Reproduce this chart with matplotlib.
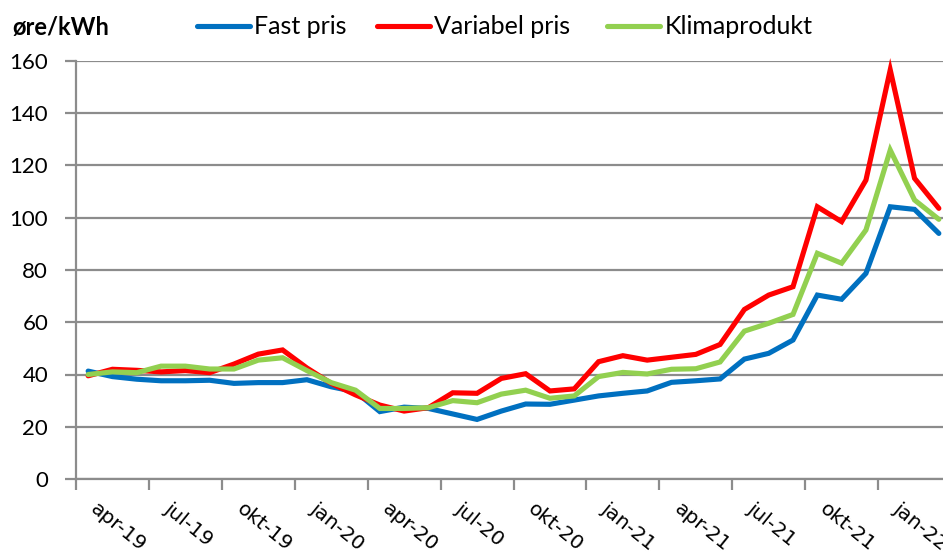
import matplotlib
matplotlib.use("Agg")
import matplotlib.pyplot as plt
import matplotlib.transforms as mtransforms
from matplotlib.ticker import FixedLocator

months = ["apr-19", "mai-19", "jun-19", "jul-19", "aug-19", "sep-19", "okt-19", "nov-19", "des-19",
          "jan-20", "feb-20", "mar-20", "apr-20", "mai-20", "jun-20", "jul-20", "aug-20", "sep-20",
          "okt-20", "nov-20", "des-20", "jan-21", "feb-21", "mar-21", "apr-21", "mai-21", "jun-21",
          "jul-21", "aug-21", "sep-21", "okt-21", "nov-21", "des-21", "jan-22", "feb-22", "mar-22"]

fast_pris = [41.3, 39.2, 38.2, 37.6, 37.6, 37.8, 36.6, 36.9, 36.9,
             38.0, 35.3, 33.4, 25.8, 27.5, 27.0, 24.9, 22.8, 26.0,
             28.7, 28.6, 30.2, 31.8, 32.8, 33.7, 37.0, 37.6, 38.3,
             45.9, 48.1, 53.2, 70.4, 68.8, 78.7, 104.2, 103.2, 94.0]

variabel_pris = [39.5, 42.0, 41.6, 41.0, 41.5, 40.7, 44.0, 47.8, 49.4,
                 42.5, 36.6, 32.2, 28.3, 26.0, 27.3, 33.0, 32.8, 38.5,
                 40.3, 33.7, 34.5, 44.9, 47.2, 45.5, 46.6, 47.7, 51.5,
                 64.9, 70.4, 73.6, 104.2, 98.5, 114.4, 156.6, 115.1, 103.6]

klimaprodukt = [40.0, 41.0, 40.7, 43.2, 43.2, 42.1, 42.1, 45.5, 46.4,
                41.5, 36.9, 34.0, 27.0, 27.0, 27.3, 30.0, 29.2, 32.5,
                34.0, 30.9, 31.8, 39.2, 40.8, 40.2, 42.0, 42.2, 44.8,
                56.6, 59.6, 63.0, 86.4, 82.6, 95.3, 125.9, 106.8, 99.4]

series = [("Fast pris", fast_pris, "#0070C0"),
          ("Variabel pris", variabel_pris, "#FF0000"),
          ("Klimaprodukt", klimaprodukt, "#92D050")]

W, H = 943, 559
fig = plt.figure(figsize=(W / 100, H / 100), dpi=100)
left, right_px = 76, 951
top, bottom = 61, 479
ax = fig.add_axes([left / W, 1 - bottom / H, (right_px - left) / W, (bottom - top) / H])

x = list(range(len(months)))
lines = []
for name, vals, col in series:
    ln, = ax.plot(x, vals, color=col, lw=3.7, label=name, solid_joinstyle="miter",
                  solid_capstyle="round", clip_on=False)
    lines.append(ln)

grid_col = "#8C8C8C"
ax.set_xlim(-0.5, len(months) - 0.5)
ax.set_ylim(0, 160)
ax.set_yticks(range(0, 161, 20))
ax.yaxis.grid(True, color=grid_col, lw=1.6)
ax.set_axisbelow(True)
for s in ["top", "right"]:
    ax.spines[s].set_visible(False)
for s in ["left", "bottom"]:
    ax.spines[s].set_color(grid_col)
    ax.spines[s].set_linewidth(1.6)

ax.tick_params(axis="y", length=8, width=1.6, color=grid_col, pad=12,
               labelsize=16, labelfontfamily="Lato")

# tick marks at group boundaries, labels at every third category
ax.xaxis.set_major_locator(FixedLocator([i - 0.5 for i in range(0, len(months) + 1, 3)]))
ax.xaxis.set_major_formatter(plt.NullFormatter())
ax.tick_params(axis="x", which="major", length=8, width=1.6, color=grid_col)
lab_pos = list(range(0, len(months), 3))
ax.xaxis.set_minor_locator(FixedLocator(lab_pos))
ax.set_xticklabels([months[i] for i in lab_pos], minor=True)
ax.tick_params(axis="x", which="minor", length=0, pad=20, labelsize=14.5)
offset = mtransforms.ScaledTranslation(5 / 100, 0, fig.dpi_scale_trans)
for t in ax.xaxis.get_minorticklabels():
    t.set_rotation(-39)
    t.set_rotation_mode("anchor")
    t.set_ha("left")
    t.set_va("center")
    t.set_fontfamily("DejaVu Sans")
    t.set_transform(t.get_transform() + offset)

fig.text(12 / W, 1 - 27 / H, "øre/kWh", fontsize=17, fontweight="bold",
         family="Lato", va="center", ha="left")

legend_x = [197, 377, 607]
for ln, lx in zip(lines, legend_x):
    leg = fig.legend([ln], [ln.get_label()], loc="center left",
                     bbox_to_anchor=(lx / W, 1 - 27 / H),
                     frameon=False, prop={"family": "Lato", "size": 18},
                     handlelength=2.1, handletextpad=0.2, borderpad=0,
                     borderaxespad=0)

fig.savefig("out.png", dpi=100)
